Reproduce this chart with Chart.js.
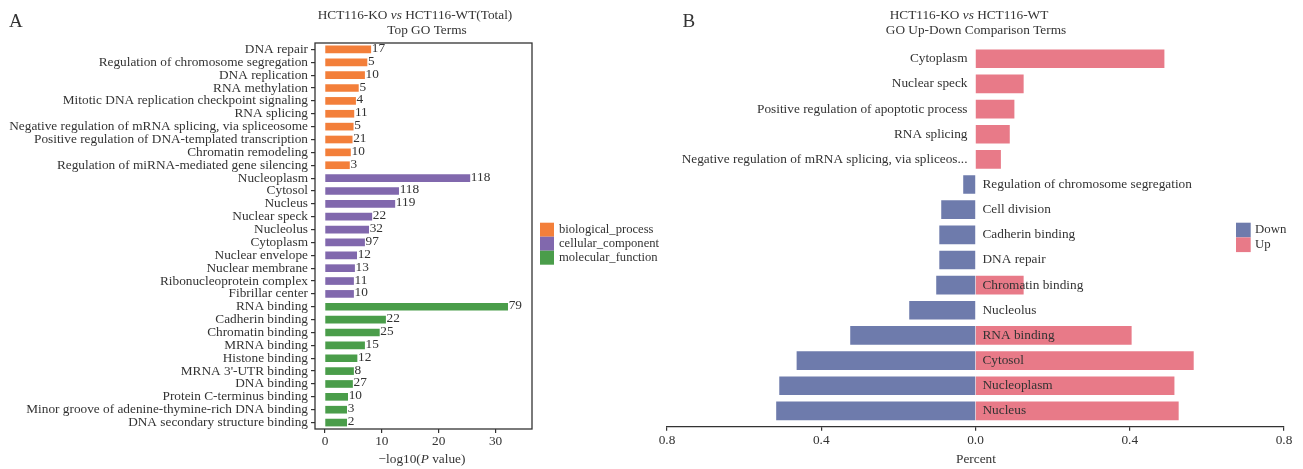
<!DOCTYPE html>
<html><head><meta charset="utf-8">
<script src="https://cdn.jsdelivr.net/npm/chart.js@4/dist/chart.umd.min.js"></script>
<style>
html,body{margin:0;padding:0;background:#fff;}
#wrap{position:relative;width:1303px;height:469px;overflow:hidden;background:#fff;}
#ca{position:absolute;left:0;top:0;}
#cb{position:absolute;left:650px;top:0;}
</style></head><body>
<div id="wrap"><canvas id="ca" width="690" height="469"></canvas><canvas id="cb" width="653" height="469"></canvas></div>
<script>
// ---------- Panel A data ----------
const goTerms = [
  'DNA repair','Regulation of chromosome segregation','DNA replication','RNA methylation',
  'Mitotic DNA replication checkpoint signaling','RNA splicing',
  'Negative regulation of mRNA splicing, via spliceosome','Positive regulation of DNA-templated transcription',
  'Chromatin remodeling','Regulation of miRNA-mediated gene silencing',
  'Nucleoplasm','Cytosol','Nucleus','Nuclear speck','Nucleolus','Cytoplasm','Nuclear envelope',
  'Nuclear membrane','Ribonucleoprotein complex','Fibrillar center',
  'RNA binding','Cadherin binding','Chromatin binding','MRNA binding','Histone binding',
  "MRNA 3'-UTR binding",'DNA binding','Protein C-terminus binding',
  'Minor groove of adenine-thymine-rich DNA binding','DNA secondary structure binding'
];
const goLogP = [8.05,7.38,6.96,5.87,5.38,5.08,4.96,4.78,4.48,4.30,
  25.47,12.95,12.28,8.23,7.68,6.96,5.57,5.20,5.02,5.02,
  32.12,10.65,9.56,6.96,5.63,5.02,4.84,3.99,3.81,3.81];
const goCounts = [17,5,10,5,4,11,5,21,10,3,
  118,118,119,22,32,97,12,13,11,10,
  79,22,25,15,12,8,27,10,3,2];
const goGroups = ['BP','BP','BP','BP','BP','BP','BP','BP','BP','BP',
  'CC','CC','CC','CC','CC','CC','CC','CC','CC','CC',
  'MF','MF','MF','MF','MF','MF','MF','MF','MF','MF'];
const groupKeys = ['BP','CC','MF'];
const groupNames = ['biological_process','cellular_component','molecular_function'];
const xTicksA = [0,10,20,30];

// ---------- Panel B data ----------
const cmpTerms = ['Cytoplasm','Nuclear speck','Positive regulation of apoptotic process','RNA splicing',
  'Negative regulation of mRNA splicing, via spliceos...','Regulation of chromosome segregation',
  'Cell division','Cadherin binding','DNA repair','Chromatin binding','Nucleolus','RNA binding',
  'Cytosol','Nucleoplasm','Nucleus'];
const cmpDown = [null,null,null,null,null,-0.031,-0.088,-0.093,-0.093,-0.101,-0.171,-0.324,-0.463,-0.508,-0.516];
const cmpUp = [0.489,0.124,0.100,0.088,0.065,null,null,null,null,0.124,null,0.404,0.565,0.515,0.526];
const xTicksB = [-0.8,-0.4,0,0.4,0.8];
const seriesNamesB = ['Down','Up'];

// ---------- styles ----------
const SERIF = "'Liberation Serif','Times New Roman',serif";
const TXT = '#333333';
const FS = 13.3;
const groupColors = {BP:'#F37F3A', CC:'#8168AD', MF:'#4A9D4A'};
const colDown = '#6E7BAC', colUp = '#E87A88';
Chart.defaults.font.family = SERIF;
Chart.defaults.color = TXT;

function drawRich(ctx, parts, cx, cy, size) {
  ctx.save();
  ctx.textBaseline = 'middle'; ctx.textAlign = 'left'; ctx.fillStyle = TXT;
  const fonts = parts.map(p => (p.i ? 'italic ' : '') + size + 'px ' + SERIF);
  let w = 0;
  const ws = parts.map((p, k) => { ctx.font = fonts[k]; const m = ctx.measureText(p.t).width; w += m; return m; });
  let x = cx - w / 2;
  parts.forEach((p, k) => { ctx.font = fonts[k]; ctx.fillText(p.t, x, cy); x += ws[k]; });
  ctx.restore();
}

// ---------- Panel A ----------
const pluginA = {
  id: 'panelA',
  afterDraw(chart) {
    const ctx = chart.ctx, a = chart.chartArea;
    ctx.save();
    ctx.strokeStyle = TXT; ctx.lineWidth = 1.3;
    ctx.strokeRect(a.left, a.top, a.right - a.left, a.bottom - a.top);
    ctx.font = FS + 'px ' + SERIF; ctx.fillStyle = TXT; ctx.textBaseline = 'middle'; ctx.textAlign = 'left';
    chart.getDatasetMeta(0).data.forEach((bar, i) => {
      ctx.fillText(String(goCounts[i]), bar.x + 1, bar.y - 1);
    });
    ctx.font = '19px ' + SERIF; ctx.textBaseline = 'alphabetic';
    ctx.fillText('A', 9, 27.3);
    ctx.font = '12.6px ' + SERIF; ctx.textBaseline = 'middle';
    groupKeys.forEach((g, k) => {
      const y = 222.7 + k * 14;
      ctx.fillStyle = groupColors[g];
      ctx.fillRect(540, y, 14, 14);
      ctx.fillStyle = TXT;
      ctx.fillText(groupNames[k], 559, y + 7);
    });
    ctx.restore();
    drawRich(ctx, [{t:'HCT116-KO '},{t:'vs', i:true},{t:' HCT116-WT(Total)'}], 415, 16, FS);
    drawRich(ctx, [{t:'Top GO Terms'}], 427, 30.5, FS);
    drawRich(ctx, [{t:'\u2212log10('},{t:'P', i:true},{t:' value)'}], 422, 459.3, FS);
  }
};

new Chart(document.getElementById('ca'), {
  type: 'bar',
  data: { labels: goTerms, datasets: [{ data: goLogP, backgroundColor: goGroups.map(g => groupColors[g]), barThickness: 7, borderWidth: 0 }] },
  options: {
    responsive: false, animation: false, indexAxis: 'y',
    layout: { padding: { left: 0, top: 43, right: 690 - 532, bottom: 0 } },
    plugins: { legend: { display: false }, tooltip: { enabled: false }, title: { display: false } },
    scales: {
      x: {
        type: 'linear', min: -1.76, max: 36.4,
        afterBuildTicks: s => { s.ticks = xTicksA.map(v => ({ value: v })); },
        afterFit: s => { s.height = 40; },
        grid: { drawOnChartArea: false, drawTicks: true, tickLength: 4, color: TXT, lineWidth: 1.2 },
        border: { display: false },
        ticks: { font: { size: FS }, color: TXT, padding: 1, maxRotation: 0 }
      },
      y: {
        afterFit: s => { s.width = 315; },
        grid: { drawOnChartArea: false, drawTicks: true, tickLength: 4, color: TXT, lineWidth: 1.2, offset: false },
        border: { display: false },
        ticks: { autoSkip: false, font: { size: FS }, color: TXT, padding: 3 }
      }
    }
  },
  plugins: [pluginA]
});

// ---------- Panel B ----------
const OX = 650;
const pluginB = {
  id: 'panelB',
  afterLayout(chart) {
    const ys = chart.scales.y;
    if (ys && typeof ys._valueRange === 'number') ys._valueRange = cmpTerms.length + 0.13;
  },
  afterDatasetsDraw(chart) {
    const ctx = chart.ctx, xs = chart.scales.x, ys = chart.scales.y;
    const x0 = xs.getPixelForValue(0);
    ctx.save();
    ctx.font = FS + 'px ' + SERIF; ctx.fillStyle = TXT; ctx.textBaseline = 'middle';
    cmpTerms.forEach((t, i) => {
      const y = ys.getPixelForValue(i);
      if (cmpDown[i] !== null) { ctx.textAlign = 'left'; ctx.fillText(t, x0 + 7, y); }
      else { ctx.textAlign = 'right'; ctx.fillText(t, x0 - 8, y); }
    });
    ctx.restore();
  },
  afterDraw(chart) {
    const ctx = chart.ctx;
    ctx.save();
    ctx.fillStyle = TXT;
    ctx.font = '19px ' + SERIF; ctx.textBaseline = 'alphabetic'; ctx.textAlign = 'left';
    ctx.fillText('B', 682.6 - OX, 27.3);
    ctx.font = '12.8px ' + SERIF; ctx.textBaseline = 'middle';
    [colDown, colUp].forEach((c, k) => {
      const y = 222.7 + k * 14.7;
      ctx.fillStyle = c; ctx.fillRect(1236 - OX, y, 14.7, 14.7);
      ctx.fillStyle = TXT; ctx.fillText(seriesNamesB[k], 1255 - OX, y + 7.3);
    });
    ctx.restore();
    drawRich(ctx, [{t:'HCT116-KO '},{t:'vs', i:true},{t:' HCT116-WT'}], 969 - OX, 16, FS);
    drawRich(ctx, [{t:'GO Up-Down Comparison Terms'}], 976 - OX, 31, FS);
    drawRich(ctx, [{t:'Percent'}], 976 - OX, 460, FS);
  }
};

new Chart(document.getElementById('cb'), {
  type: 'bar',
  data: {
    labels: cmpTerms,
    datasets: [
      { label: seriesNamesB[0], data: cmpDown, backgroundColor: colDown, barThickness: 18, borderWidth: 0 },
      { label: seriesNamesB[1], data: cmpUp, backgroundColor: colUp, barThickness: 18, borderWidth: 0 }
    ]
  },
  options: {
    responsive: false, animation: false, indexAxis: 'y',
    layout: { padding: { left: 17, top: 46.2, right: 19, bottom: 0 } },
    plugins: { legend: { display: false }, tooltip: { enabled: false } },
    scales: {
      x: {
        type: 'linear', stacked: true, min: -0.8, max: 0.8,
        afterBuildTicks: s => { s.ticks = xTicksB.map(v => ({ value: v })); },
        afterFit: s => { s.height = 469 - 426.7; },
        grid: { drawOnChartArea: false, drawTicks: true, tickLength: 4, color: TXT, lineWidth: 1.2 },
        border: { display: true, color: TXT, width: 1.2 },
        ticks: { font: { size: FS }, color: TXT, padding: 2, maxRotation: 0,
          callback: v => Math.abs(v).toFixed(1) }
      },
      y: { stacked: true, display: false }
    }
  },
  plugins: [pluginB]
});
</script>
</body></html>
